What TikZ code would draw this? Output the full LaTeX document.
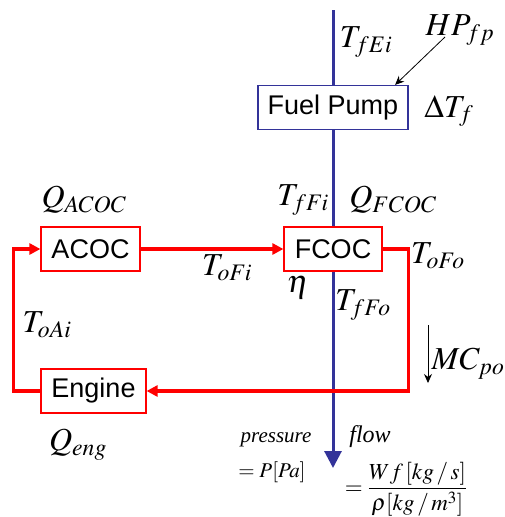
\documentclass[tikz,border=0pt]{standalone}
\usepackage{mathptmx}
\usepackage{fontspec}
\setmainfont{Liberation Serif}
\setsansfont{Liberation Sans}
\usetikzlibrary{arrows.meta,positioning}
\definecolor{fuelblue}{RGB}{51,51,153}
\definecolor{oilred}{RGB}{255,0,0}
\begin{document}
\begin{tikzpicture}[x=1pt,y=-1pt,
  box/.style={draw,fill=white,minimum height=44pt,inner sep=2pt,font=\sffamily\fontsize{27}{31}\selectfont},
  pump/.style={box,draw=fuelblue,line width=1.2pt,minimum width=150pt},
  cooler/.style={box,draw=oilred,line width=1.2pt},
  fuel/.style={fuelblue,line width=3pt},
  oil/.style={oilred,line width=3.6pt,-{Triangle[length=11pt,width=11pt]}},
  sym/.style={inner sep=0pt,font=\fontsize{32}{36}\selectfont},
  note/.style={inner sep=0pt,font=\fontsize{21}{25}\selectfont},
]
\useasboundingbox (0,0) rectangle (505,517);
% boxes
\node[pump] (pump) at (333,107.5) {Fuel Pump};
\node[cooler,minimum width=99pt] (acoc) at (90.5,249) {ACOC};
\node[cooler,minimum width=98pt] (fcoc) at (333,249) {FCOC};
\node[cooler,minimum width=105pt] (engine) at (93.5,391) {Engine};
% free ends
\coordinate (fuelin) at (333,10);
\coordinate (fuelout) at (333,468);
\coordinate (hptail) at (445,37);
\coordinate (mctop) at (428,325);
\coordinate (mcbot) at (428,383);
% fuel line
\draw[fuel] (fuelin) -- (pump);
\draw[fuel] (pump) -- (fcoc);
\draw[fuel,-{Triangle[length=17pt,width=17pt]}] (fcoc) -- (fuelout);
% oil loop
\draw[oil] (acoc) -- (fcoc);
\draw[oil] (fcoc.east) -- ++(26,0) |- (engine.east);
\draw[oil] (engine.west) -- ++(-27,0) |- (acoc.west);
% other arrows
\draw[-{Stealth[length=9pt,width=8pt]},line width=0.8pt] (hptail) -- (pump.20);
\draw[-{Stealth[length=9pt,width=8pt]},line width=0.8pt] (mctop) -- (mcbot);
% labels
\node[sym] (tfei) at (366,42) {$T_{fEi}$};
\node[sym] (hpfp) at (460,30) {$HP_{fp}$};
\node[sym] (dtf) at (449,111) {$\Delta T_f$};
\node[sym] (qacoc) at (84,200) {$Q_{ACOC}$};
\node[sym] (tffi) at (303,200) {$T_{fFi}$};
\node[sym] (qfcoc) at (393,200) {$Q_{FCOC}$};
\node[sym] (tofo) at (438,256) {$T_{oFo}$};
\node[sym] (tofi) at (227,268) {$T_{oFi}$};
\node[sym] (eta) at (298,288) {$\eta$};
\node[sym] (tffo) at (363,305) {$T_{fFo}$};
\node[sym] (toai) at (47,325) {$T_{oAi}$};
\node[sym] (mcpo) at (468,364) {$MC_{po}$};
\node[sym] (qeng) at (78,445) {$Q_{eng}$};
\node[note] (press) at (276,440) {\textit{pressure}};
\node[note] (pval) at (272,472) {$=P[Pa]$};
\node[note,font=\fontsize{24}{28}\selectfont] (flow) at (370,437) {\textit{flow}};
\node[inner sep=0pt,font=\fontsize{23}{27}\selectfont] (fval) at (406,489) {$=\displaystyle\frac{Wf\,[kg\,/\,s]}{\rho[kg\,/\,m^3]}$};
\end{tikzpicture}
\end{document}
